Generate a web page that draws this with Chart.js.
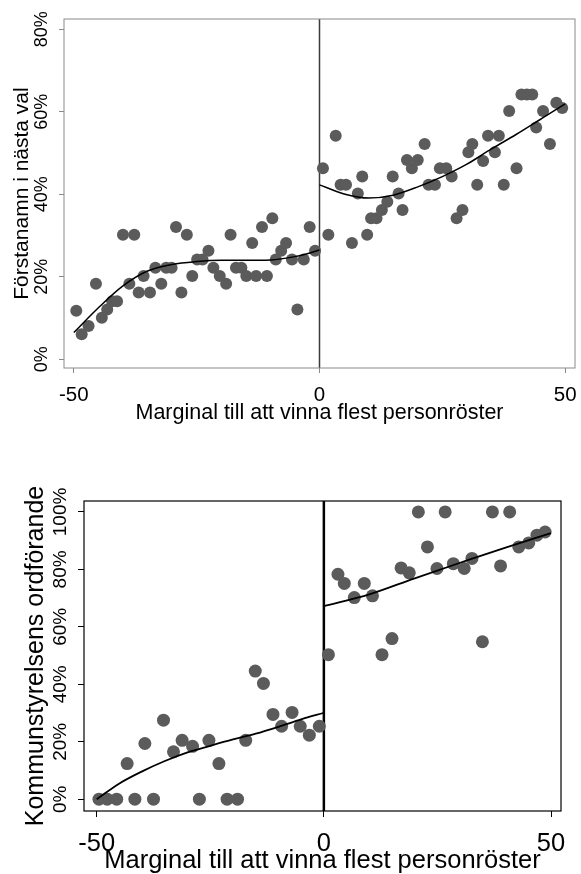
<!DOCTYPE html>
<html lang="sv">
<head>
<meta charset="UTF-8">
<title>Marginal till att vinna flest personröster</title>
<script src="https://cdn.jsdelivr.net/npm/chart.js@4.4.1/dist/chart.umd.min.js"></script>
<style>
  html, body { margin: 0; padding: 0; background: #fff; }
  .panel { position: absolute; left: 0; width: 581px; }
  #top { top: 0; height: 440px; }
  #bottom { top: 440px; height: 434px; }
</style>
</head>
<body>
<div class="panel" id="top"><canvas id="topChart"></canvas></div>
<div class="panel" id="bottom"><canvas id="bottomChart"></canvas></div>
<script>
const FONT = "'Liberation Sans', Arial, sans-serif";

// axis ticks
const xTicks = [-50, 0, 50];
const topYTicks = [0, 20, 40, 60, 80];
const bottomYTicks = [0, 20, 40, 60, 80, 100];

// top panel: first name on next election list
const topMargin = [-49.5, -48.4, -47.0, -45.5, -44.3, -43.2, -42.2, -41.2, -40.0, -38.7,
  -37.7, -36.8, -35.8, -34.5, -33.4, -32.2, -31.2, -30.1, -29.2, -28.1,
  -27.0, -25.9, -24.9, -23.8, -22.6, -21.6, -20.3, -19.0, -18.1, -17.0,
  -15.9, -14.9, -13.7, -12.9, -11.7, -10.7, -9.6, -8.9, -7.8, -6.8,
  -5.6, -4.5, -3.2, -2.0, -0.9,
  0.7, 1.8, 3.3, 4.3, 5.4, 6.6, 7.8, 8.7, 9.7, 10.5,
  11.6, 12.7, 13.8, 14.9, 16.1, 16.9, 17.8, 18.8, 20.0, 21.4,
  22.2, 23.5, 24.5, 25.8, 26.9, 27.9, 29.1, 30.3, 31.1, 32.1,
  33.3, 34.3, 35.7, 36.5, 37.5, 38.6, 40.1, 41.1, 42.2, 43.3,
  44.1, 45.5, 46.9, 48.2, 49.4];
const topShare = [11.8, 6.1, 8.1, 18.3, 10.1, 12.1, 14.1, 14.1, 30.2, 18.3,
  30.2, 16.2, 20.2, 16.2, 22.2, 18.3, 22.2, 22.2, 32.1, 16.2,
  30.2, 20.2, 24.2, 24.2, 26.3, 22.2, 20.2, 18.3, 30.2, 22.2,
  22.2, 20.2, 28.2, 20.2, 32.1, 20.2, 34.2, 24.2, 26.3, 28.2,
  24.2, 12.1, 24.2, 32.1, 26.3,
  46.3, 30.2, 54.2, 42.3, 42.3, 28.2, 40.2, 44.3, 30.2, 34.2,
  34.2, 36.2, 38.2, 44.3, 40.2, 36.2, 48.3, 46.3, 48.3, 52.2,
  42.3, 42.3, 46.3, 46.3, 44.3, 34.2, 36.2, 50.2, 52.2, 42.3,
  48.1, 54.2, 50.2, 54.2, 42.3, 60.2, 46.3, 64.2, 64.2, 64.2,
  56.2, 60.2, 52.2, 62.2, 60.9];
const topFitLeftX = [-50, -45, -40, -35, -30, -25, -20, -15, -10, -5, -2.5, 0];
const topFitLeftY = [6.5, 12.5, 17.8, 21.4, 23.0, 23.7, 24.0, 24.0, 24.1, 24.9, 25.6, 26.5];
const topFitRightX = [0, 5, 10, 15, 20, 25, 30, 35, 40, 45, 50];
const topFitRightY = [42.3, 40.1, 39.1, 39.8, 41.8, 44.3, 47.3, 51.0, 54.5, 58.2, 61.9];

// bottom panel: chair of the municipal executive board
const bottomMargin = [-49.5, -47.7, -45.6, -43.3, -41.6, -39.4, -37.5, -35.3, -33.1, -31.2,
  -28.9, -27.4, -25.3, -23.1, -21.3, -19.0, -17.2, -15.1, -13.3, -11.2,
  -9.3, -7.0, -5.2, -3.2, -1.0,
  1.0, 3.1, 4.5, 6.7, 8.9, 10.7, 12.8, 15.0, 17.0, 18.8,
  20.8, 22.8, 24.9, 26.7, 28.5, 30.9, 32.6, 34.9, 37.1, 38.9,
  40.9, 42.9, 45.1, 46.9, 48.7];
const bottomShare = [0, 0, 0, 12.4, 0, 19.4, 0, 27.5, 16.5, 20.5,
  18.4, 0, 20.5, 12.4, 0, 0, 20.5, 44.6, 40.3, 29.5,
  25.4, 30.2, 25.4, 22.3, 25.4,
  50.3, 78.3, 75.1, 70.2, 75.1, 70.8, 50.3, 55.9, 80.5, 78.8,
  100, 87.8, 80.3, 100, 82.0, 80.3, 83.8, 54.8, 100, 81.2,
  100, 87.8, 89.2, 91.9, 93.0];
const bottomFitLeftX = [-50, -45, -40, -35, -30, -25, -20, -15, -10, -5, 0];
const bottomFitLeftY = [0, 5.5, 9.7, 13.3, 16.3, 18.6, 20.8, 22.8, 25.2, 27.8, 30.1];
const bottomFitRightX = [0, 10, 20, 30, 40, 50];
const bottomFitRightY = [67.2, 71.3, 76.9, 82.3, 87.6, 92.6];

const pts = (xs, ys) => xs.map((x, i) => ({ x: x, y: ys[i] }));

// frame, zero line and rotated y tick labels
const decor = {
  id: 'decor',
  beforeDatasetsDraw(chart, args, o) {
    const { ctx, chartArea: a, scales } = chart;
    const x0 = scales.x.getPixelForValue(0);
    ctx.save();
    ctx.strokeStyle = o.zeroColor;
    ctx.lineWidth = o.zeroWidth;
    ctx.beginPath();
    ctx.moveTo(x0, a.top);
    ctx.lineTo(x0, a.bottom);
    ctx.stroke();
    ctx.strokeStyle = o.frameColor;
    ctx.lineWidth = o.frameWidth;
    ctx.strokeRect(a.left, a.top, a.right - a.left, a.bottom - a.top);
    ctx.restore();
  },
  afterDraw(chart, args, o) {
    const { ctx, scales } = chart;
    ctx.save();
    ctx.fillStyle = '#000';
    ctx.font = o.tickSize + 'px ' + FONT;
    ctx.textAlign = 'center';
    ctx.textBaseline = 'middle';
    scales.y.ticks.forEach(t => {
      ctx.save();
      ctx.translate(o.tickX, scales.y.getPixelForValue(t.value));
      ctx.rotate(-Math.PI / 2);
      ctx.fillText(t.value + '%', 0, 0);
      ctx.restore();
    });
    ctx.restore();
  }
};

function makeChart(id, cfg) {
  return new Chart(document.getElementById(id), {
    type: 'scatter',
    data: {
      datasets: [
        { type: 'line', data: cfg.fitLeft, borderColor: '#000', borderWidth: cfg.fitWidth,
          pointRadius: 0, cubicInterpolationMode: 'monotone', order: 0 },
        { type: 'line', data: cfg.fitRight, borderColor: '#000', borderWidth: cfg.fitWidth,
          pointRadius: 0, cubicInterpolationMode: 'monotone', order: 0 },
        { data: cfg.points, backgroundColor: '#5b5b5b', borderWidth: 0,
          pointRadius: cfg.dot, pointHoverRadius: cfg.dot, order: 1 }
      ]
    },
    options: {
      responsive: true,
      maintainAspectRatio: false,
      animation: false,
      layout: { padding: cfg.padding },
      plugins: {
        legend: { display: false },
        tooltip: { enabled: false },
        decor: cfg.decor
      },
      scales: {
        x: {
          type: 'linear', min: cfg.xMin, max: cfg.xMax,
          afterBuildTicks: s => { s.ticks = xTicks.map(v => ({ value: v })); },
          afterFit: s => { s.height = cfg.xHeight; s.paddingLeft = 0; s.paddingRight = 0; },
          grid: { drawOnChartArea: false, tickLength: cfg.tickLen, color: cfg.decor.frameColor, lineWidth: 1 },
          border: { display: false },
          ticks: { color: '#000', font: { family: FONT, size: cfg.xTickSize }, padding: cfg.xTickPad,
                   maxRotation: 0, autoSkip: false, callback: v => String(v) },
          title: { display: true, text: 'Marginal till att vinna flest personröster', color: '#000',
                   font: { family: FONT, size: cfg.xTitleSize, lineHeight: 1 }, padding: { top: 0, bottom: cfg.xTitlePad } }
        },
        y: {
          type: 'linear', min: cfg.yMin, max: cfg.yMax,
          afterBuildTicks: s => { s.ticks = cfg.yTicks.map(v => ({ value: v })); },
          afterFit: s => { s.width = cfg.yWidth; s.paddingTop = 0; s.paddingBottom = 0; },
          grid: { drawOnChartArea: false, tickLength: cfg.tickLen, color: cfg.decor.frameColor, lineWidth: 1 },
          border: { display: false },
          ticks: { display: false },
          title: { display: true, text: cfg.yTitle, color: '#000',
                   font: { family: FONT, size: cfg.yTitleSize, lineHeight: 1 }, padding: { top: cfg.yTitlePad, bottom: 0 } }
        }
      }
    },
    plugins: [decor]
  });
}

makeChart('topChart', {
  points: pts(topMargin, topShare),
  fitLeft: pts(topFitLeftX, topFitLeftY),
  fitRight: pts(topFitRightX, topFitRightY),
  fitWidth: 1.5, dot: 6,
  padding: { left: 0, right: 4, top: 19, bottom: 0 },
  xMin: -52, xMax: 52, yMin: -2.1, yMax: 82.5,
  yTicks: topYTicks,
  xHeight: 72, yWidth: 64, tickLen: 5,
  xTickSize: 20.5, xTickPad: 10, xTitleSize: 21.5, xTitlePad: 16,
  yTitle: 'Förstanamn i nästa val', yTitleSize: 21, yTitlePad: 12,
  decor: { zeroColor: '#3a3a3a', zeroWidth: 1.5, frameColor: '#8a8a8a', frameWidth: 1, tickX: 42, tickSize: 18 }
});

makeChart('bottomChart', {
  points: pts(bottomMargin, bottomShare),
  fitLeft: pts(bottomFitLeftX, bottomFitLeftY),
  fitRight: pts(bottomFitRightX, bottomFitRightY),
  fitWidth: 1.8, dot: 6.5,
  padding: { left: 0, right: 20, top: 61, bottom: 0 },
  xMin: -52.8, xMax: 52.2, yMin: -4.1, yMax: 103.8,
  yTicks: bottomYTicks,
  xHeight: 63, yWidth: 84, tickLen: 6,
  xTickSize: 25.5, xTickPad: 12, xTitleSize: 25.5, xTitlePad: 0,
  yTitle: 'Kommunstyrelsens ordförande', yTitleSize: 25, yTitlePad: 24,
  decor: { zeroColor: '#000', zeroWidth: 2.5, frameColor: '#000', frameWidth: 1.2, tickX: 61, tickSize: 19 }
});
</script>
</body>
</html>
